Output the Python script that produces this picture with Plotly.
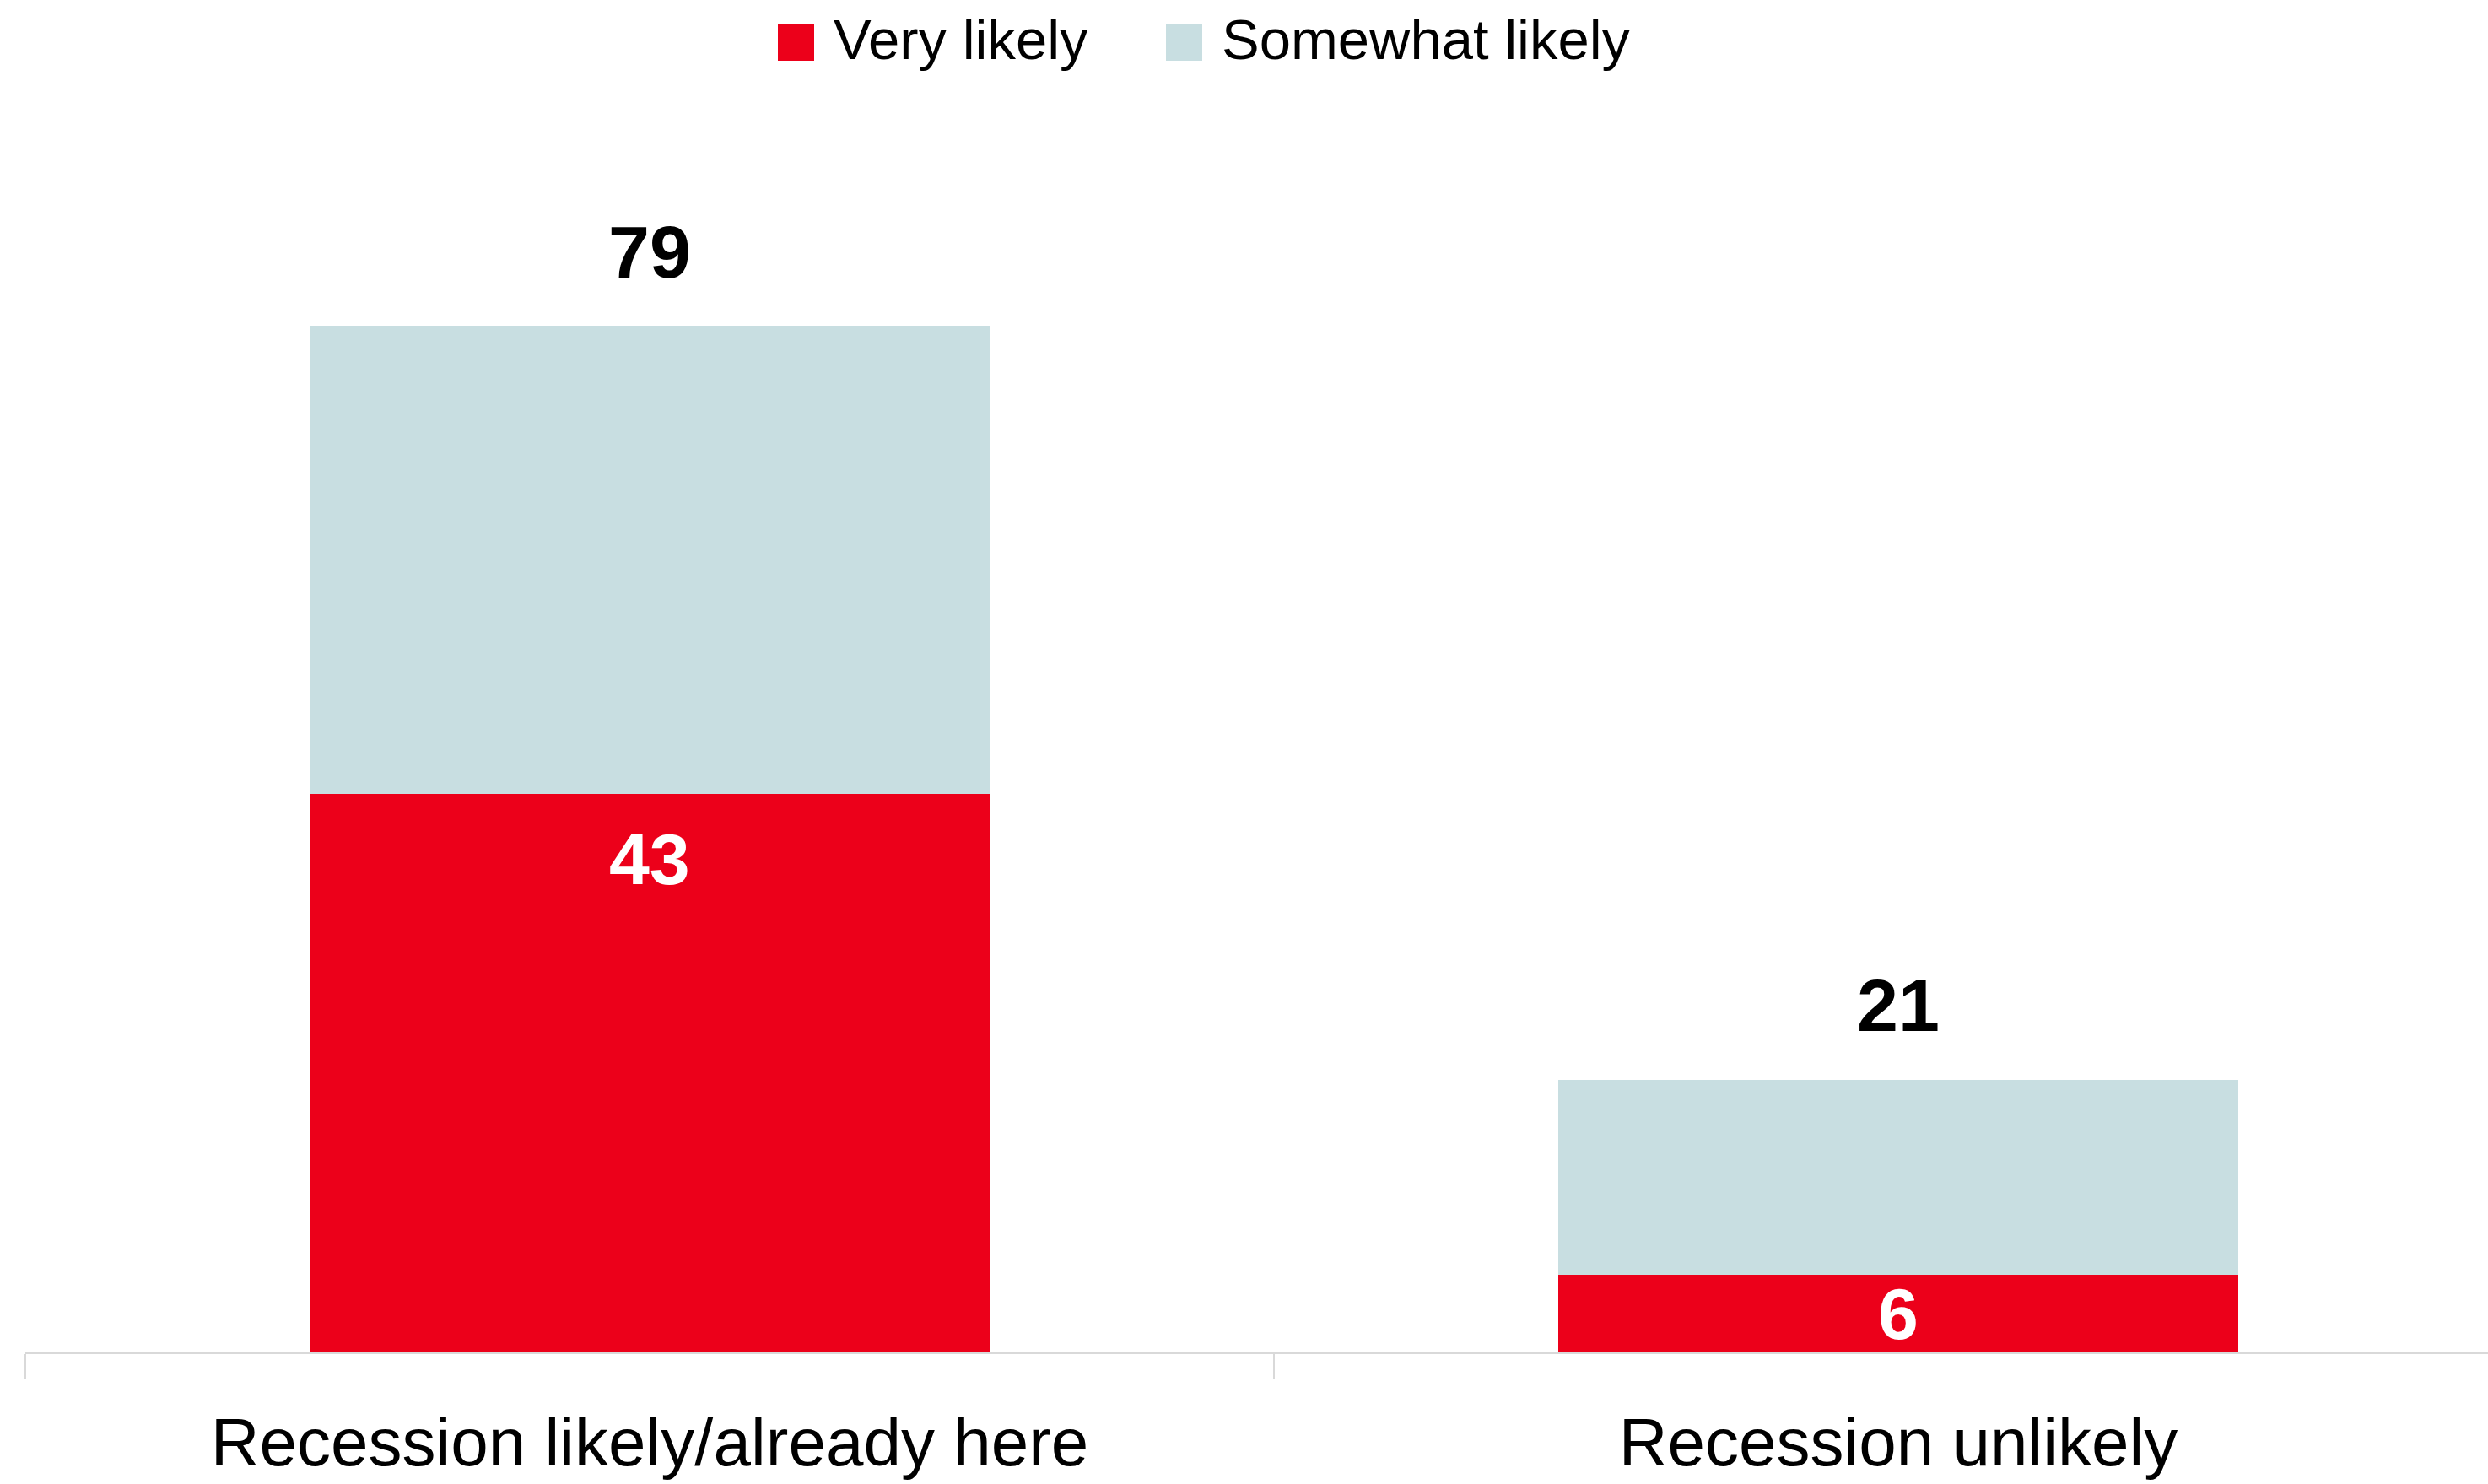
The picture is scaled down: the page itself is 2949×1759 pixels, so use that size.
import plotly.graph_objects as go

# Survey outcome categories and stacked shares (%)
categories = ["Recession likely/already here", "Recession unlikely"]
very_likely = [43, 6]
somewhat_likely = [36, 15]
totals = [v + s for v, s in zip(very_likely, somewhat_likely)]

series_names = ["Very likely", "Somewhat likely"]
RED = "#EC001A"
LIGHT = "#C8DEE1"
FONT = "Liberation Sans, Arial, Helvetica, sans-serif"

W, H = 2949, 1759
M_L, M_R, M_T, M_B = 30, 0, 100, 156

fig = go.Figure()
fig.add_trace(go.Bar(x=categories, y=very_likely, name=series_names[0],
                     marker=dict(color=RED, line=dict(width=0)), showlegend=False))
fig.add_trace(go.Bar(x=categories, y=somewhat_likely, name=series_names[1],
                     marker=dict(color=LIGHT, line=dict(width=0)), showlegend=False))

annotations = []
# Totals above each stack
for c, t in zip(categories, totals):
    annotations.append(dict(x=c, y=t, xref="x", yref="y", text=str(t), showarrow=False,
                            yanchor="middle", yshift=88,
                            font=dict(family=FONT, size=88, color="black", weight="bold")))
# Values inside the red segments
for c, v in zip(categories, very_likely):
    annotations.append(dict(x=c, y=max(v - 5, v / 2), xref="x", yref="y", text=str(v),
                            showarrow=False, yanchor="middle",
                            font=dict(family=FONT, size=86, color="white", weight="bold")))

# Legend drawn at the top centre with large square swatches
plot_w = W - M_L - M_R
plot_h = H - M_T - M_B


def px_x(p):
    return (p - M_L) / plot_w


def px_y(p):
    return (H - M_B - p) / plot_h


legend_items = [(series_names[0], RED, 922, 986), (series_names[1], LIGHT, 1382, 1446)]
shapes = []
for name, col, sx, tx in legend_items:
    shapes.append(dict(type="rect", xref="paper", yref="paper",
                       x0=px_x(sx), x1=px_x(sx + 43), y0=px_y(72), y1=px_y(29),
                       fillcolor=col, line=dict(width=0), layer="above"))
    annotations.append(dict(x=px_x(tx), y=px_y(47), xref="paper", yref="paper",
                            text=name, showarrow=False, xanchor="left", yanchor="middle",
                            font=dict(family=FONT, size=67, color="black")))

fig.update_layout(
    width=W, height=H,
    margin=dict(l=M_L, r=M_R, t=M_T, b=M_B, autoexpand=False),
    barmode="stack", bargap=0.456,
    plot_bgcolor="white", paper_bgcolor="white",
    font=dict(family=FONT, color="black"),
    annotations=annotations, shapes=shapes,
    showlegend=False,
)
fig.update_xaxes(range=[-0.5, -0.5 + plot_w / 1480], showgrid=False, zeroline=False,
                 showline=True, linecolor="#D9D9D9", linewidth=2, automargin=False,
                 ticks="outside", tickson="boundaries", ticklen=30, tickwidth=2,
                 tickcolor="#D9D9D9", ticklabelstandoff=36,
                 tickfont=dict(family=FONT, size=80, color="black"))
fig.update_yaxes(range=[0, plot_h / 15.4], showgrid=False, zeroline=False,
                 showticklabels=False, showline=False, automargin=False)

fig.write_html("out.html")
